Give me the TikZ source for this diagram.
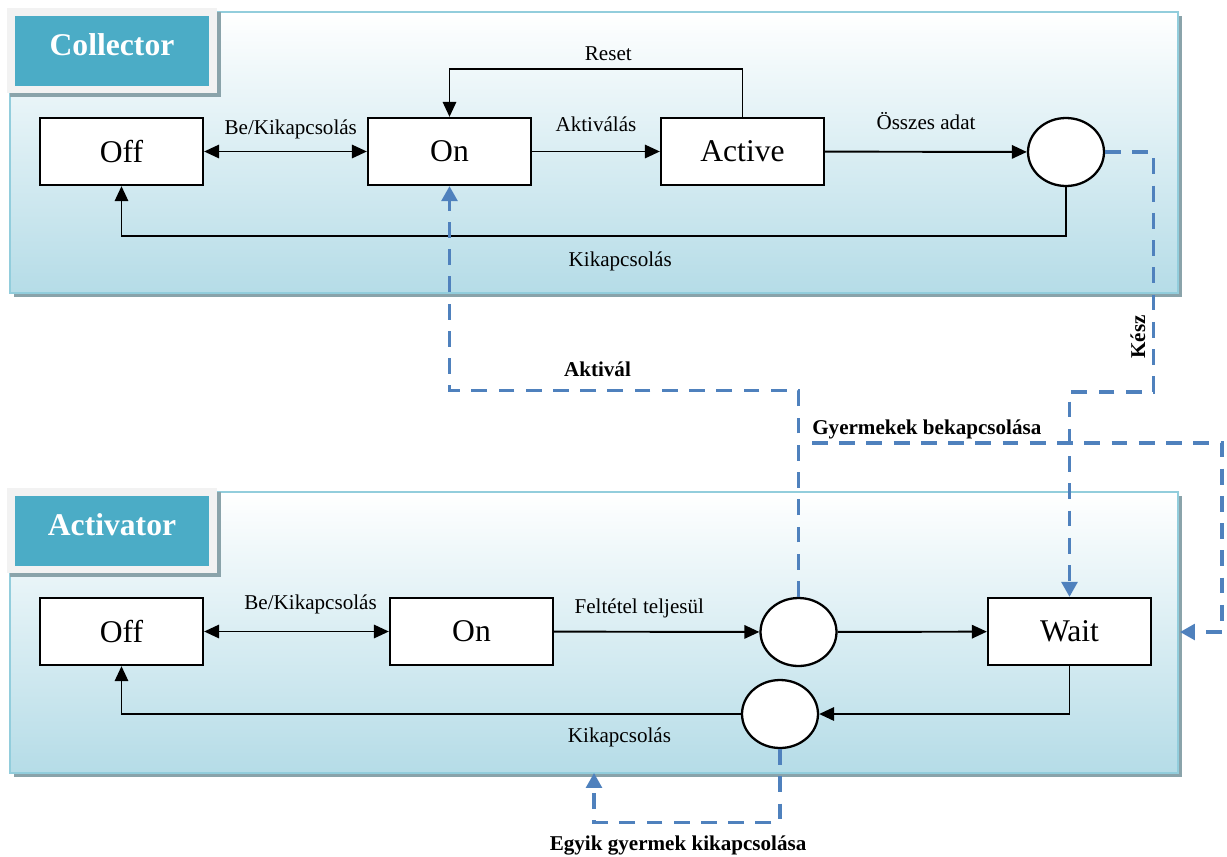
\documentclass[tikz,border=0pt]{standalone}
\usepackage{fontspec}
\setmainfont{Liberation Serif}
\usetikzlibrary{arrows.meta,shapes.geometric}
\definecolor{panelblue}{RGB}{181,220,231}
\definecolor{panelline}{RGB}{146,205,220}
\definecolor{titleblue}{RGB}{75,172,198}
\definecolor{titlegray}{RGB}{242,242,242}
\definecolor{shadowgray}{RGB}{138,163,170}
\definecolor{dashblue}{RGB}{79,129,189}
\newcommand\statepanel[3]{%
  \fill[shadowgray,-] (14,{#1+4}) rectangle (1182,{#1+285});
  \shade[top color=white,bottom color=panelblue,draw=panelline,line width=1.2pt,-]
    (10,#1) rectangle (1178,{#1+281});
  \fill[shadowgray,-] (10,#1) rectangle (221,{#1+85});
  \fill[titlegray,-] (7,{#1-4}) rectangle (217,{#1+81});
  \fill[titleblue,-] (15,{#1+4}) rectangle (209,{#1+74});
  \node[paneltitle] (#3) at (112,{#1+43}) {#2};}

\begin{document}
\begin{tikzpicture}[x=0.02cm,y=-0.02cm,->,>={Triangle[length=8.5pt,width=7.6pt]},line width=1.1pt,
    state/.style={draw,fill=white,line width=1.3pt,minimum width=3.26cm,minimum height=1.34cm,
      inner sep=0pt,font=\fontsize{18}{20}\selectfont},
    junction/.style={ellipse,draw,fill=white,line width=1.3pt,minimum width=1.52cm,
      minimum height=1.36cm,inner sep=0pt},
    lbl/.style={inner sep=0pt,text height=8pt,text depth=0pt,font=\fontsize{12}{14}\selectfont},
    blbl/.style={lbl,text=black,font=\fontsize{12}{14}\selectfont\bfseries},
    signal/.style={dashblue,line width=1.8pt,dash pattern=on 9pt off 6.5pt,
      -{Triangle[length=8.5pt,width=9pt]}},
    paneltitle/.style={anchor=base,inner sep=0pt,text=white,font=\fontsize{18}{20}\selectfont\bfseries}]

  \useasboundingbox (0,0) rectangle (1227,856);

  \statepanel{12}{Collector}{ctitle}
  \statepanel{492}{Activator}{atitle}

  \node[state] (coff) at (121.5,151.5) {Off};
  \node[state] (con) at (449.5,151.5) {On};
  \node[state] (cact) at (742.5,151.5) {Active};
  \node[junction] (cend) at (1066,152) {};

  \node[state] (aoff) at (121.5,631.5) {Off};
  \node[state] (aon) at (471.5,631.5) {On};
  \node[junction] (pa) at (798.5,632) {};
  \node[state] (wait) at (1069.5,631.5) {Wait};
  \node[junction] (pb) at (780,714) {};

  \path (coff) edge[<->] node[lbl,above=9pt,xshift=3pt] (tcbe) {Be/Kikapcsolás} (con)
        (con) edge node[lbl,above=11pt] (tcakt) {Aktiválás} (cact)
        (cact) edge node[lbl,above=12pt] (tcall) {Összes adat} (cend);
  \draw (cact.north) -- ++(0,-48) -| node[lbl,above=4.4pt,pos=0.229] (treset) {Reset} (con.north);
  \draw (cend.south) -- ++(0,49) -| node[lbl,below=8.5pt,pos=0.236] (tcoff) {Kikapcsolás} (coff.south);

  \path (aoff) edge[<->] node[lbl,above=12pt,xshift=8pt] (tabe) {Be/Kikapcsolás} (aon)
        (aon) edge node[lbl,above=10pt,pos=0.415] (tfelt) {Feltétel teljesül} (pa)
        (pa) edge (wait);
  \draw (wait.south) |- (pb.east);
  \draw (pb.west) -| node[lbl,below=7.5pt,pos=0.098] (taoff) {Kikapcsolás} (aoff.south);

  \coordinate (gy0) at (812,443);
  \coordinate (gy1) at (1180,632);
  \coordinate (egy1) at (594,773);

  \draw[signal] (pa.north) -- ++(0,-206) -| node[blbl,above=7.4pt,pos=0.288] (taktival) {Aktivál} (con.south);
  \draw[signal] (cend.east) -- ++(48,0) -- ++(0,240) -| (wait.north);
  \node[blbl,rotate=90] (tkesz) at (1138,337) {Kész};
  \draw[signal] (gy0) -- node[blbl,above=4pt,pos=0.28] (tgyer) {Gyermekek bekapcsolása} ++(410,0) |- (gy1);
  \draw[signal] (pb.south) -- ++(0,73) -| node[blbl,below=7.5pt,pos=0.274] (tegyik) {Egyik gyermek kikapcsolása} (egy1);

\end{tikzpicture}
\end{document}
